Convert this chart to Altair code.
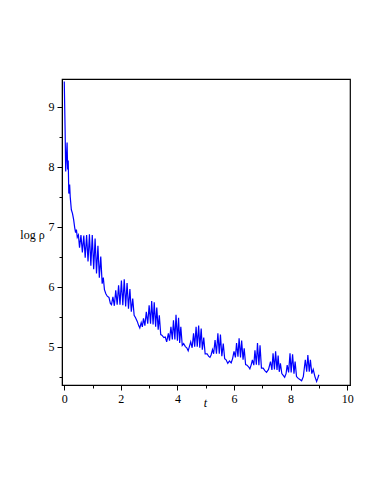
import altair as alt
import pandas as pd

# Curve points (t, log rho)
t_vals = [
    0.00, 0.03, 0.05, 0.08, 0.10, 0.12, 0.14, 0.16, 0.19, 0.21, 0.25, 0.29, 0.33, 0.37, 0.40, 0.43, 0.46,
    0.50, 0.54, 0.59, 0.64, 0.69, 0.74, 0.79, 0.84, 0.89, 0.94, 0.99, 1.04, 1.09, 1.14, 1.19, 1.24, 1.29, 1.34, 1.38, 1.42,
    1.47, 1.52, 1.58, 1.63, 1.67,
    1.72, 1.77, 1.82, 1.87, 1.92, 1.97, 2.02, 2.07, 2.12, 2.17, 2.22, 2.27, 2.32, 2.37, 2.42,
    2.47, 2.52, 2.58, 2.63, 2.67, 2.72, 2.76,
    2.80, 2.85, 2.90, 2.95, 3.00, 3.05, 3.09, 3.14, 3.18, 3.23, 3.27, 3.32, 3.36, 3.41,
    3.45, 3.52, 3.57, 3.62,
    3.68, 3.72, 3.77, 3.82, 3.86, 3.91, 3.95, 4.00, 4.04, 4.08, 4.12, 4.17,
    4.22, 4.28, 4.33, 4.38,
    4.47, 4.52, 4.57, 4.61, 4.66, 4.70, 4.75, 4.79, 4.84, 4.88, 4.93, 4.98,
    5.05, 5.10, 5.15, 5.19,
    5.24, 5.28, 5.33, 5.38, 5.43, 5.48, 5.52, 5.57, 5.62, 5.67,
    5.72, 5.78, 5.84, 5.90, 5.95,
    6.00, 6.05, 6.09, 6.14, 6.18, 6.23, 6.27, 6.32, 6.36, 6.41,
    6.46, 6.52, 6.56, 6.61,
    6.65, 6.70, 6.74, 6.79, 6.83, 6.88, 6.92, 6.97,
    7.03, 7.09, 7.15, 7.22,
    7.29, 7.34, 7.38, 7.43, 7.47, 7.52, 7.56, 7.60, 7.64, 7.69,
    7.74, 7.79, 7.84,
    7.88, 7.93, 7.98, 8.02, 8.07, 8.12, 8.16, 8.21,
    8.27, 8.33, 8.39, 8.45,
    8.52, 8.57, 8.61, 8.66, 8.70, 8.75, 8.80,
    8.86, 8.92, 8.96, 9.00,
]
log_rho = [
    9.42, 8.60, 7.92, 8.20, 8.40, 7.95, 8.10, 7.55, 7.70, 7.50, 7.28, 7.22, 7.12, 6.98, 6.90, 6.95, 6.82,
    6.86, 6.65, 6.86, 6.57, 6.85, 6.48, 6.86, 6.42, 6.87, 6.35, 6.86, 6.29, 6.80, 6.22, 6.68, 6.15, 6.50, 6.05, 6.15, 5.95,
    5.88, 5.84, 5.82, 5.72, 5.70,
    5.83, 5.68, 5.94, 5.70, 6.02, 5.70, 6.10, 5.69, 6.12, 5.67, 6.06, 5.63, 5.96, 5.58, 5.80,
    5.52, 5.48, 5.42, 5.35, 5.31, 5.40, 5.33,
    5.47, 5.35, 5.58, 5.38, 5.69, 5.38, 5.76, 5.37, 5.74, 5.33, 5.65, 5.28, 5.52, 5.20,
    5.19, 5.15, 5.16, 5.08,
    5.22, 5.10, 5.33, 5.12, 5.44, 5.12, 5.53, 5.10, 5.48, 5.06, 5.33, 5.02,
    5.05, 5.00, 4.98, 4.93,
    5.08, 4.98, 5.22, 5.00, 5.33, 5.00, 5.35, 4.98, 5.30, 4.95, 5.15, 4.88,
    4.88, 4.84, 4.82, 4.86,
    4.95, 4.88, 5.11, 4.88, 5.22, 4.88, 5.20, 4.84, 5.05, 4.80,
    4.78, 4.72, 4.76, 4.73, 4.80,
    4.92, 4.82, 5.06, 4.83, 5.14, 4.82, 5.10, 4.78, 4.97, 4.70,
    4.69, 4.66, 4.63, 4.70,
    4.78, 4.69, 4.94, 4.70, 5.06, 4.69, 5.02, 4.64,
    4.64, 4.60, 4.57, 4.62,
    4.75, 4.61, 4.89, 4.62, 4.92, 4.61, 4.85, 4.58, 4.72, 4.55,
    4.52, 4.49, 4.55,
    4.69, 4.57, 4.89, 4.57, 4.87, 4.55, 4.75, 4.50,
    4.47, 4.45, 4.43, 4.50,
    4.78, 4.58, 4.86, 4.58, 4.78, 4.55, 4.62,
    4.50, 4.42, 4.47, 4.53,
]

x_ticks = [0, 1, 2, 3, 4, 5, 6, 7, 8, 9, 10]
y_ticks = [4.5, 5, 5.5, 6, 6.5, 7, 7.5, 8, 8.5, 9]

df = pd.DataFrame({"t": t_vals, "logrho": log_rho})

FONT = "Times New Roman, Liberation Serif, serif"

chart = alt.Chart(df).mark_line(color="#0000ff", strokeWidth=1.2, interpolate="linear").encode(
    x=alt.X(
        "t:Q",
        scale=alt.Scale(domain=[-0.08, 10.1], nice=False, zero=False),
        axis=alt.Axis(
            values=x_ticks,
            labelExpr="datum.value % 2 === 0 ? format(datum.value, 'd') : ''",
            tickSize={"condition": {"test": "datum.value % 2 === 0", "value": 5}, "value": 3},
            title="t",
            titleFont=FONT,
            titleFontStyle="italic",
            titleFontWeight="normal",
            titleFontSize=12,
            titleX=143,
            titleY=21,
            titleAlign="center",
            titleBaseline="alphabetic",
            labelFont=FONT,
            labelFontSize=12,
            labelPadding=3,
            grid=False,
            domainColor="black",
            tickColor="black",
            labelColor="black",
            titleColor="black",
        ),
    ),
    y=alt.Y(
        "logrho:Q",
        scale=alt.Scale(domain=[4.36, 9.46], nice=False, zero=False),
        axis=alt.Axis(
            values=y_ticks,
            labelExpr="datum.value % 1 === 0 ? format(datum.value, 'd') : ''",
            tickSize={"condition": {"test": "datum.value % 1 === 0", "value": 5}, "value": 3},
            title="log ρ",
            titleFont=FONT,
            titleAngle=0,
            titleFontSize=12,
            titleFontWeight="normal",
            titleX=-30,
            titleY=159,
            titleAlign="center",
            titleBaseline="alphabetic",
            labelFont=FONT,
            labelFontSize=12,
            labelPadding=3,
            grid=False,
            domainColor="black",
            tickColor="black",
            labelColor="black",
            titleColor="black",
        ),
    ),
).properties(
    width=288,
    height=306,
    autosize=alt.AutoSizeParams(type="none"),
    padding={"left": 54, "top": 71, "right": 16, "bottom": 80},
).configure_view(stroke="black", strokeWidth=1.2)

chart.save("out.html", embed_options={"renderer": "svg", "actions": False})
